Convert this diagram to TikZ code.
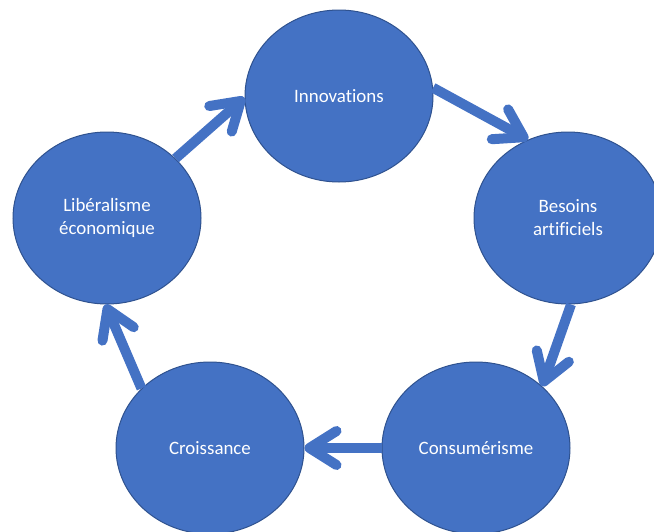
\documentclass[tikz,border=0pt]{standalone}
\usepackage{fontspec}
\setmainfont{Carlito}[Ligatures={NoCommon}]
\usetikzlibrary{shapes.geometric,arrows.meta}
\definecolor{obl}{HTML}{4472C4}
\definecolor{obd}{HTML}{2F528F}
\tikzset{
  bubble/.style={ellipse, fill=obl, draw=obd, line width=1pt, minimum width=188pt, minimum height=172pt, inner sep=0pt, text=white, align=center, font=\fontsize{18.9}{23}\selectfont},
  flow/.style={draw=obl, line width=10pt, -{Straight Barb[length=27pt,width=34pt,line cap=round,line join=round]}}
}
\begin{document}
\begin{tikzpicture}[x=1pt,y=-1pt]
\useasboundingbox (0,0) rectangle (654,531);
\node[bubble] (inn) at (339,96) {Innovations};
\node[bubble] (bes) at (568,218) {Besoins\\artificiels};
\node[bubble] (lib) at (107,218) {Libéralisme\\économique};
\node[bubble] (cro) at (210,448) {Croissance};
\node[bubble] (con) at (476,448) {Consumérisme};
\draw[flow] (lib.41) -- (inn.181);
\draw[flow] (inn.5) -- (bes.117);
\draw[flow] (bes.272) -- (con.43);
\draw[flow] (con.180) -- (cro.0);
\draw[flow] (cro.139) -- (lib.269);
\end{tikzpicture}
\end{document}
